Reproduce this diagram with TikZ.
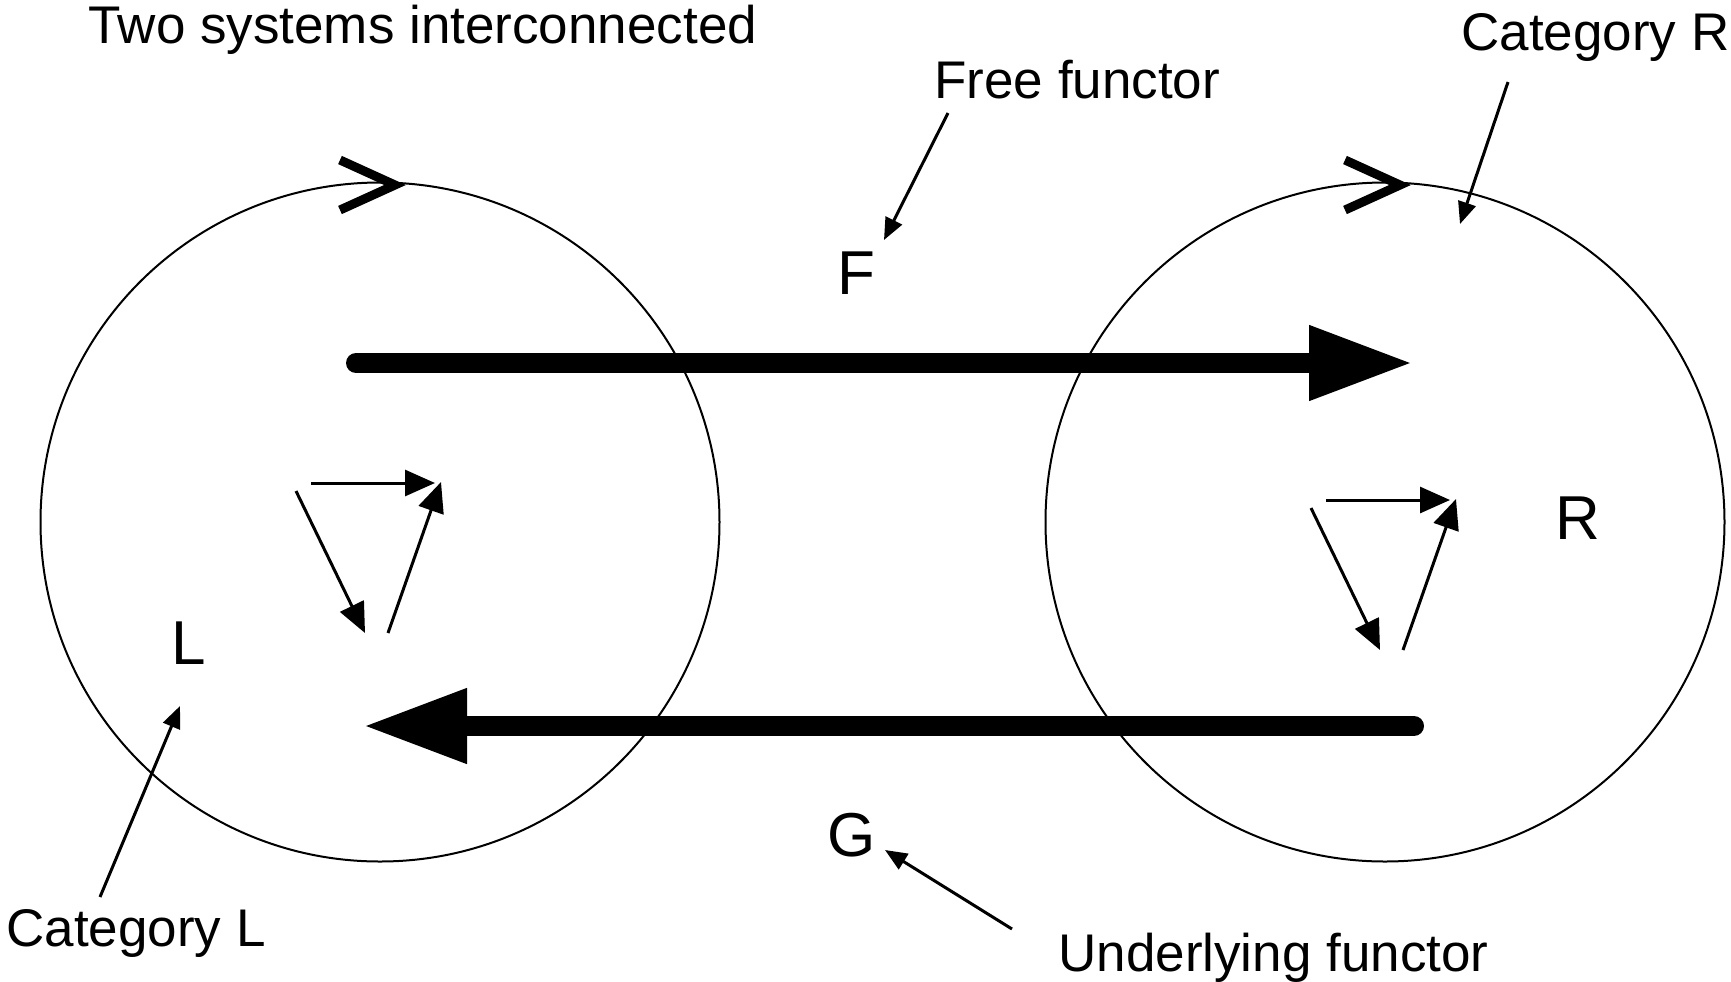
\documentclass[tikz,border=0pt]{standalone}
\usepackage{fontspec}
\setmainfont{Liberation Sans}
\usetikzlibrary{arrows.meta}
\tikzset{
  lbl/.style={font=\fontsize{26.5}{30}\selectfont,inner sep=0pt,anchor=base west},
  letter/.style={font=\fontsize{31}{34}\selectfont,inner sep=0pt},
  pointer/.style={line width=1.5pt,-{Triangle[length=11pt,width=9pt]}},
  morph/.style={line width=1.5pt,-{Triangle[length=15pt,width=13pt]}},
  functor/.style={line width=10pt,line cap=round,-{Triangle[length=52pt,width=35pt]}}
}
\begin{document}
\begin{tikzpicture}[x=0.5pt,y=-0.5pt]
\useasboundingbox (0,0) rectangle (1731,981);
% the two categories
\foreach \cx/\dx/\dy/\nm in {380/0/0/L,1385/1015/17/R}{
\draw[line width=1pt] (\cx,522) circle[radius=339.5];
\draw[line width=4.5pt] (\cx-40,160)--(\cx+15,185)--(\cx-40,210);
\begin{scope}[shift={(\dx,\dy)}]
\coordinate (h1\nm) at (311,483); \coordinate (h2\nm) at (435,483);
\coordinate (d1\nm) at (296,491); \coordinate (d2\nm) at (365,633);
\coordinate (u1\nm) at (388,633); \coordinate (u2\nm) at (441,482);
\draw[morph] (h1\nm)--(h2\nm);
\draw[morph] (d1\nm)--(d2\nm);
\draw[morph] (u1\nm)--(u2\nm);
\end{scope}}
% functors
\coordinate (fs) at (356,363); \coordinate (ft) at (1413,363);
\coordinate (gs) at (1414,726); \coordinate (gt) at (363,726);
\draw[functor] (fs)--(ft);
\draw[functor] (gs)--(gt);
\node[letter] (F) at (856,273) {F};
\node[letter] (G) at (852,835) {G};
\node[letter] (R) at (1578,518) {R};
\node[letter] (L) at (189,643) {L};
% labels
\node[lbl] (title) at (88,43) {Two systems interconnected};
\node[lbl] (catR) at (1461,50) {Category R};
\node[lbl] (free) at (934,98) {Free functor};
\node[lbl] (catL) at (6,946) {Category L};
\node[lbl] (under) at (1058,971) {Underlying functor};
\coordinate (free-a) at (948,113); \coordinate (free-b) at (884,240);
\coordinate (catR-a) at (1508,82); \coordinate (catR-b) at (1460,224);
\coordinate (catL-a) at (100,897); \coordinate (catL-b) at (180,706);
\coordinate (under-a) at (1012,929); \coordinate (under-b) at (885,850);
\draw[pointer] (free-a)--(free-b);
\draw[pointer] (catR-a)--(catR-b);
\draw[pointer] (catL-a)--(catL-b);
\draw[pointer] (under-a)--(under-b);
\end{tikzpicture}
\end{document}
